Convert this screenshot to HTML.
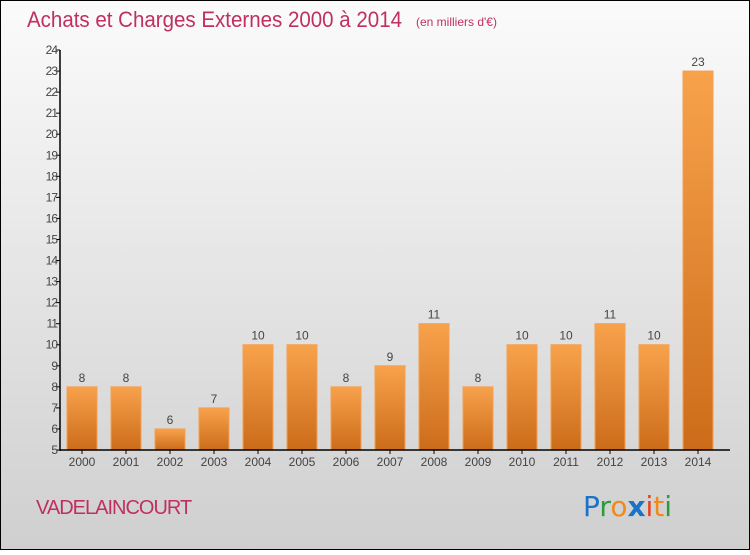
<!DOCTYPE html>
<html><head><meta charset="utf-8"><style>
html,body{margin:0;padding:0;}
body{width:750px;height:550px;overflow:hidden;font-family:"Liberation Sans",sans-serif;}
</style></head><body>
<svg id="chart" width="750" height="550" xmlns="http://www.w3.org/2000/svg">
<defs>
<linearGradient id="bg" x1="0" y1="0" x2="0" y2="1"><stop offset="0" stop-color="#fbfbfb"/><stop offset="1" stop-color="#cfcfcf"/></linearGradient>
<linearGradient id="bar" x1="0" y1="0" x2="0" y2="1"><stop offset="0" stop-color="#f8a24c"/><stop offset="1" stop-color="#cc6c1a"/></linearGradient>
</defs>
<rect x="0.5" y="0.5" width="749" height="549" fill="url(#bg)" stroke="#000"/>
<text x="27" y="27" font-size="22" fill="#c0305e" textLength="375" lengthAdjust="spacingAndGlyphs">Achats et Charges Externes 2000 à 2014</text>
<text x="416" y="26" font-size="12" fill="#c0305e">(en milliers d'€)</text>
<text x="36" y="514" font-size="20" fill="#c0305e" letter-spacing="-1">VADELAINCOURT</text>
<g font-size="28" font-family="'DejaVu Sans',sans-serif">
<text x="583" y="516"><tspan fill="#1a73c8">P</tspan><tspan fill="#2f9a3a">r</tspan><tspan fill="#f08a1a">o</tspan><tspan fill="#1a73c8" font-weight="bold">x</tspan><tspan fill="#e8401a">i</tspan><tspan fill="#f08a1a">t</tspan><tspan fill="#2f9a3a">i</tspan></text>
</g>
<g id="plot"></g>
</svg>
<script>
const categories=["2000","2001","2002","2003","2004","2005","2006","2007","2008","2009","2010","2011","2012","2013","2014"];
const values=[8,8,6,7,10,10,8,9,11,8,10,10,11,10,23];
const yTicks=[5,6,7,8,9,10,11,12,13,14,15,16,17,18,19,20,21,22,23,24];
const NS="http://www.w3.org/2000/svg";
const plotG=document.getElementById('plot');
const yMin=5,yMax=24,plotTop=50,plotBot=450,axX=60;
const yS=v=>plotBot-(v-yMin)*(plotBot-plotTop)/(yMax-yMin);
const xS=i=>82+i*44;
function mk(t,a){const e=document.createElementNS(NS,t);for(const k in a)e.setAttribute(k,a[k]);plotG.appendChild(e);return e;}
values.forEach((v,i)=>{
 const r=mk('rect',{x:xS(i)-15,y:yS(v),width:30,height:plotBot-yS(v),fill:'url(#bar)',stroke:'#f4a050','stroke-width':1});
 
 
 const t=mk('text',{x:xS(i),y:yS(v)-5,'text-anchor':'middle','font-size':12,fill:'#444'});t.textContent=v;
 
 
 const c=mk('text',{x:xS(i),y:plotBot+16,'text-anchor':'middle','font-size':12,fill:'#444'});c.textContent=categories[i];
 
 
 mk('line',{x1:xS(i),x2:xS(i),y1:plotBot,y2:plotBot+4,stroke:'#000'});
});
yTicks.forEach(v=>{
 mk('line',{x1:axX-4,x2:axX,y1:yS(v),y2:yS(v),stroke:'#000'});
 const t=mk('text',{x:axX-3,y:yS(v)+4,'text-anchor':'end','font-size':12,fill:'#444','letter-spacing':'-1'});t.textContent=v;
 
 
});
const ya=mk('line',{x1:axX,x2:axX,y1:plotTop,y2:plotBot+1,stroke:'#000','stroke-width':1.5});


const xa=mk('line',{x1:axX,x2:730,y1:plotBot,y2:plotBot,stroke:'#000','stroke-width':1.5});


</script>
</body></html>
